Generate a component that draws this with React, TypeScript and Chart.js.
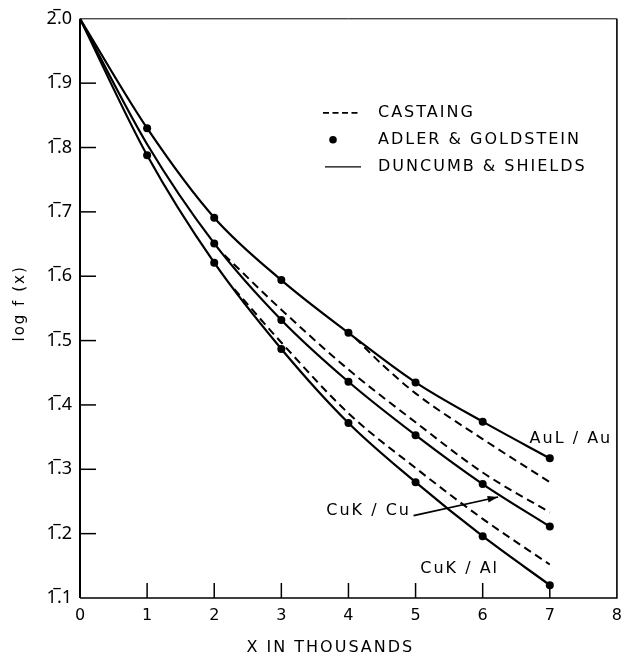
import React, { useEffect, useRef } from "react";
import { Chart, registerables } from "chart.js";

Chart.register(...registerables);

// ---- data ----
const curveX = [0, 1, 2, 3, 4, 5, 6, 7];
const duncumbAuL = [2.0, 1.83, 1.691, 1.594, 1.512, 1.435, 1.374, 1.317];
const duncumbCuKCu = [2.0, 1.805, 1.651, 1.532, 1.436, 1.353, 1.277, 1.211];
const duncumbCuKAl = [2.0, 1.788, 1.621, 1.487, 1.372, 1.28, 1.196, 1.12];

const adlerAuLX = [1, 2, 3, 4, 5, 6, 7];
const adlerAuL = [1.83, 1.691, 1.594, 1.512, 1.435, 1.374, 1.317];
const adlerCuKCuX = [2, 3, 4, 5, 6, 7];
const adlerCuKCu = [1.651, 1.532, 1.436, 1.353, 1.277, 1.211];
const adlerCuKAlX = [1, 2, 3, 4, 5, 6, 7];
const adlerCuKAl = [1.788, 1.621, 1.487, 1.372, 1.28, 1.196, 1.12];

const castaingAuLX = [4.1, 4.5, 5, 6, 7];
const castaingAuL = [1.504, 1.463, 1.418, 1.347, 1.28];
const castaingCuKCuX = [2.15, 3, 4, 5, 6, 7];
const castaingCuKCu = [1.633, 1.548, 1.455, 1.373, 1.295, 1.233];
const castaingCuKAlX = [2.3, 3, 4, 5, 6, 7];
const castaingCuKAl = [1.58, 1.497, 1.387, 1.302, 1.223, 1.152];

const xTickValues = [0, 1, 2, 3, 4, 5, 6, 7, 8];
const yTickValues = [2.0, 1.9, 1.8, 1.7, 1.6, 1.5, 1.4, 1.3, 1.2, 1.1];
const yTickLabels = ["2\u0305.0", "1\u0305.9", "1\u0305.8", "1\u0305.7", "1\u0305.6", "1\u0305.5", "1\u0305.4", "1\u0305.3", "1\u0305.2", "1\u0305.1"];

const legendLabels = ["CASTAING", "ADLER & GOLDSTEIN", "DUNCUMB & SHIELDS"];
const curveNames = ["AuL / Au", "CuK / Cu", "CuK / Al"];
const xTitle = "X IN THOUSANDS";
const yTitle = "log f (x)";

const FONT = '"DejaVu Sans", sans-serif';
const TICK_FONT = '"Noto Sans", "DejaVu Sans", sans-serif';
const DASH = [8, 5];

const pts = (xs: number[], ys: number[]) => xs.map((x, i) => ({ x, y: ys[i] }));

const overlayPlugin = {
  id: "overlay",
  beforeDraw(chart: any) {
    chart.ctx.letterSpacing = "0px";
  },
  afterDraw(chart: any) {
    const { ctx, chartArea: a } = chart;
    const xs = chart.scales.x;
    const ys = chart.scales.y;
    ctx.save();
    ctx.letterSpacing = "0px";
    ctx.strokeStyle = "#000";
    ctx.fillStyle = "#000";
    // frame
    ctx.lineWidth = 1;
    ctx.beginPath();
    ctx.moveTo(a.left, a.top);
    ctx.lineTo(a.right, a.top);
    ctx.stroke();
    ctx.lineWidth = 1.6;
    ctx.beginPath();
    ctx.moveTo(a.right, a.top);
    ctx.lineTo(a.right, a.bottom);
    ctx.lineTo(a.left, a.bottom);
    ctx.stroke();
    ctx.lineWidth = 2;
    ctx.beginPath();
    ctx.moveTo(a.left, a.top);
    ctx.lineTo(a.left, a.bottom);
    ctx.stroke();
    // inward ticks
    ctx.lineWidth = 1.5;
    yTickValues.slice(1, -1).forEach((v) => {
      const py = ys.getPixelForValue(v);
      ctx.beginPath();
      ctx.moveTo(a.left, py);
      ctx.lineTo(a.left + 16, py);
      ctx.stroke();
    });
    xTickValues.slice(1, -1).forEach((v) => {
      const px = xs.getPixelForValue(v);
      ctx.beginPath();
      ctx.moveTo(px, a.bottom);
      ctx.lineTo(px, a.bottom - 15);
      ctx.stroke();
    });

    // legend
    const lx = a.left + 243;
    const tx = a.left + 298;
    const rows = [a.top + 94, a.top + 121, a.top + 148];
    ctx.lineWidth = 1.8;
    ctx.setLineDash([6, 3.5]);
    ctx.beginPath();
    ctx.moveTo(lx, rows[0]);
    ctx.lineTo(lx + 35, rows[0]);
    ctx.stroke();
    ctx.setLineDash([]);
    ctx.beginPath();
    ctx.arc(lx + 10, rows[1], 3.8, 0, Math.PI * 2);
    ctx.fill();
    ctx.lineWidth = 1.2;
    ctx.beginPath();
    ctx.moveTo(lx + 2, rows[2]);
    ctx.lineTo(lx + 38, rows[2]);
    ctx.stroke();

    ctx.letterSpacing = "2px";
    ctx.font = `16px ${FONT}`;
    ctx.textBaseline = "middle";
    ctx.textAlign = "left";
    legendLabels.forEach((t, i) => ctx.fillText(t, tx, rows[i]));

    // curve labels
    ctx.textAlign = "right";
    ctx.fillText(curveNames[0], xs.getPixelForValue(7.93), ys.getPixelForValue(1.347));
    ctx.textAlign = "left";
    ctx.fillText(curveNames[1], xs.getPixelForValue(3.67), ys.getPixelForValue(1.236));
    ctx.fillText(curveNames[2], xs.getPixelForValue(5.07), ys.getPixelForValue(1.146));

    // arrow for CuK / Cu
    ctx.letterSpacing = "0px";
    const x1 = xs.getPixelForValue(4.97), y1 = ys.getPixelForValue(1.228);
    const x2 = xs.getPixelForValue(6.23), y2 = ys.getPixelForValue(1.257);
    ctx.lineWidth = 1.6;
    ctx.beginPath();
    ctx.moveTo(x1, y1);
    ctx.lineTo(x2, y2);
    ctx.stroke();
    const ang = Math.atan2(y2 - y1, x2 - x1);
    ctx.beginPath();
    ctx.moveTo(x2, y2);
    ctx.lineTo(x2 - 11 * Math.cos(ang - 0.3), y2 - 11 * Math.sin(ang - 0.3));
    ctx.lineTo(x2 - 11 * Math.cos(ang + 0.3), y2 - 11 * Math.sin(ang + 0.3));
    ctx.closePath();
    ctx.fill();

    // axis titles
    ctx.letterSpacing = "2px";
    ctx.font = `16px ${FONT}`;
    ctx.textAlign = "center";
    ctx.fillText(xTitle, xs.getPixelForValue(3.73), a.bottom + 50);
    ctx.save();
    ctx.translate(20, (a.top + a.bottom) / 2 - 5);
    ctx.rotate(-Math.PI / 2);
    ctx.font = `15px ${FONT}`;
    ctx.fillText(yTitle, 0, 0);
    ctx.restore();
    ctx.restore();
  },
};

export default function App() {
  const ref = useRef<HTMLCanvasElement>(null);
  useEffect(() => {
    if (!ref.current) return;
    const solid = (data: any) => ({
      type: "line" as const,
      data,
      borderColor: "#000",
      borderWidth: 2.2,
      pointRadius: 0,
      cubicInterpolationMode: "monotone" as const,
      fill: false,
    });
    const dashed = (data: any) => ({
      ...solid(data),
      borderWidth: 2,
      borderDash: DASH,
    });
    const dots = (data: any) => ({
      type: "scatter" as const,
      data,
      showLine: false,
      pointRadius: 4,
      pointBackgroundColor: "#000",
      pointBorderColor: "#000",
      pointBorderWidth: 0,
    });
    const chart = new Chart(ref.current, {
      type: "line",
      data: {
        datasets: [
          { label: legendLabels[2] + " " + curveNames[0], ...solid(pts(curveX, duncumbAuL)) },
          { label: legendLabels[2] + " " + curveNames[1], ...solid(pts(curveX, duncumbCuKCu)) },
          { label: legendLabels[2] + " " + curveNames[2], ...solid(pts(curveX, duncumbCuKAl)) },
          { label: legendLabels[0] + " " + curveNames[0], ...dashed(pts(castaingAuLX, castaingAuL)) },
          { label: legendLabels[0] + " " + curveNames[1], ...dashed(pts(castaingCuKCuX, castaingCuKCu)) },
          { label: legendLabels[0] + " " + curveNames[2], ...dashed(pts(castaingCuKAlX, castaingCuKAl)) },
          { label: legendLabels[1] + " " + curveNames[0], ...dots(pts(adlerAuLX, adlerAuL)) },
          { label: legendLabels[1] + " " + curveNames[1], ...dots(pts(adlerCuKCuX, adlerCuKCu)) },
          { label: legendLabels[1] + " " + curveNames[2], ...dots(pts(adlerCuKAlX, adlerCuKAl)) },
        ] as any,
      },
      options: {
        animation: false,
        responsive: true,
        maintainAspectRatio: false,
        layout: { padding: { left: 0, right: 10, top: 17, bottom: 0 } },
        plugins: { legend: { display: false }, tooltip: { enabled: false } },
        scales: {
          x: {
            type: "linear",
            min: 0,
            max: 8,
            afterFit: (s: any) => { s.height = 65; },
            afterBuildTicks: (s: any) => { s.ticks = xTickValues.map((v) => ({ value: v })); },
            grid: { display: false, drawTicks: false },
            border: { display: false },
            ticks: {
              color: "#000",
              font: { family: FONT, size: 16 },
              padding: 8,
              callback: (v: any) => String(v),
            },
          },
          y: {
            type: "linear",
            min: 1.1,
            max: 2.0,
            afterFit: (s: any) => { s.width = 80; },
            afterBuildTicks: (s: any) => { s.ticks = yTickValues.map((v) => ({ value: v })); },
            grid: { display: false, drawTicks: false },
            border: { display: false },
            ticks: {
              color: "#000",
              font: { family: TICK_FONT, size: 18 },
              padding: 8,
              callback: (v: any) => {
                const i = yTickValues.findIndex((t) => Math.abs(t - v) < 1e-6);
                return i >= 0 ? yTickLabels[i] : "";
              },
            },
          },
        },
      },
      plugins: [overlayPlugin],
    });
    return () => chart.destroy();
  }, []);
  return (
    <div style={{ position: "fixed", left: 0, top: 0, width: 630, height: 663, background: "#fff" }}>
      <canvas ref={ref} />
    </div>
  );
}
